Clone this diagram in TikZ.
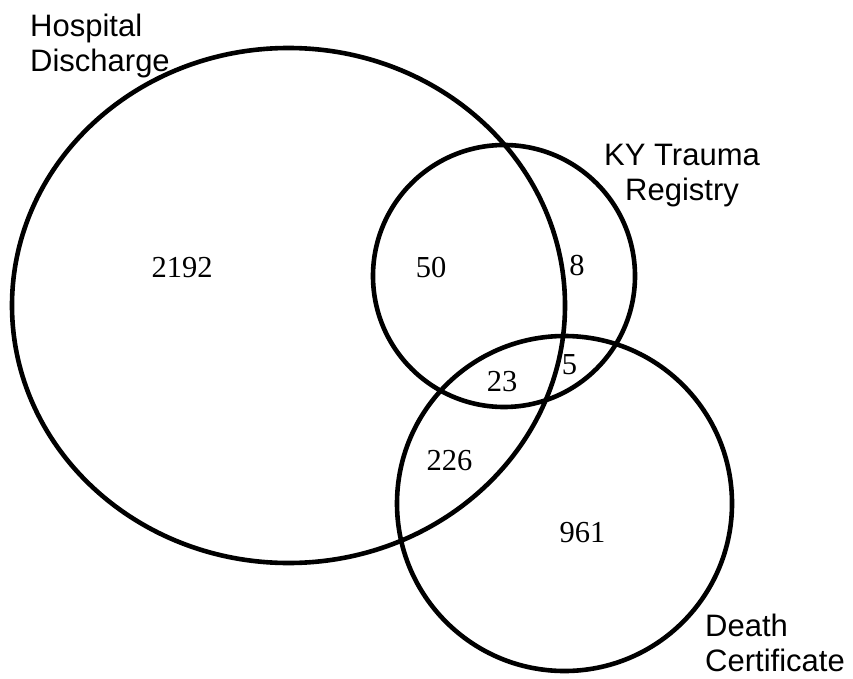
\documentclass[tikz,border=0pt]{standalone}
\usepackage{fontspec}
\setmainfont{Liberation Serif}
\setsansfont{Liberation Sans}
\usepackage[svgnames]{xcolor}
\definecolor{Black}{HTML}{000000}
\definecolor{White}{HTML}{FFFFFF}
\usepackage{tikz}
\tikzset{
  every picture/.style={x=1pt, y=-1pt},
  set/.style={draw=Black, line width=4.6pt},
  count/.style={font={\rmfamily\fontsize{30.5}{34}\selectfont}, inner sep=0pt},
  setname/.style={font={\sffamily\fontsize{31}{35}\selectfont}, inner sep=0pt}}

\begin{document}
\begin{tikzpicture}
    \useasboundingbox[fill=White] (0,0) rectangle (853,679);

    \draw[set] (288.5,305.5) ellipse[x radius=276.5pt, y radius=257.5pt];
    \draw[set] (504,276) circle[radius=131pt];
    \draw[set] (564.5,503.5) circle[radius=167.5pt];

    \node[setname, anchor=north west, align=left] (hosp) at (30,14) {Hospital\\Discharge};
    \node[setname, anchor=north, align=center] (kytr) at (682,144) {KY Trauma\\Registry};
    \node[setname, anchor=north west, align=left] (dcert) at (705,614) {Death\\Certificate};

    \node[count] (hd) at (182,268) {2192};
    \node[count] (hdkt) at (431,268) {50};
    \node[count] (kt) at (577,266) {8};
    \node[count] (ktdc) at (569.5,365) {5};
    \node[count] (all) at (502,382) {23};
    \node[count] (hddc) at (449.5,461) {226};
    \node[count] (dc) at (582.5,533) {961};
  \end{tikzpicture}
\end{document}
